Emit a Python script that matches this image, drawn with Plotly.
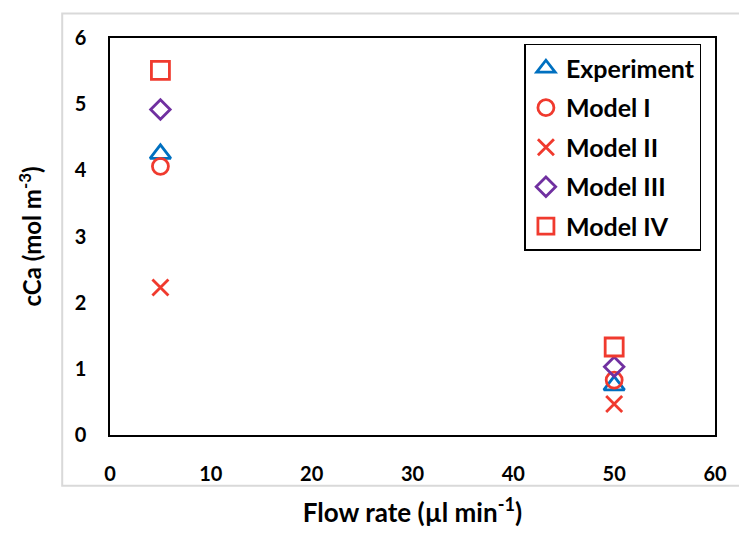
import plotly.graph_objects as go

flow_rate = [5, 50]
series_names = ["Experiment", "Model I", "Model II", "Model III", "Model IV"]
experiment = [4.25, 0.75]
model_i = [4.06, 0.83]
model_ii = [2.23, 0.47]
model_iii = [4.92, 1.03]
model_iv = [5.51, 1.33]
x_ticks = [0, 10, 20, 30, 40, 50, 60]
y_ticks = [0, 1, 2, 3, 4, 5, 6]

values = [experiment, model_i, model_ii, model_iii, model_iv]
symbols = ["triangle-up-open", "circle-open", "x-thin-open", "diamond-open", "square-open"]
colors = ["#0070C0", "#F03A2E", "#F03A2E", "#7030A0", "#F03A2E"]
sizes = [18, 16, 16, 15, 18]

FONT = "Lato"
fig = go.Figure()
for i, (name, vals) in enumerate(zip(series_names, values)):
    fig.add_trace(go.Scatter(
        x=flow_rate, y=vals, mode="markers", name=name, legendgroup=name,
        marker=dict(symbol=symbols[i], size=sizes[i], color=colors[i],
                    line=dict(color=colors[i], width=2.8)),
    ))

fig.update_layout(
    width=739, height=535,
    margin=dict(l=110, r=22, t=38, b=91),
    paper_bgcolor="white", plot_bgcolor="white",
    font=dict(family=FONT, color="black", size=20),
    showlegend=True,
    legend=dict(x=0.685, y=0.985, xanchor="left", yanchor="top",
                bordercolor="black", borderwidth=1.5, bgcolor="white",
                font=dict(family=FONT, size=25, color="black", weight="bold"),
                tracegroupgap=4, itemwidth=30),
    xaxis=dict(range=x_ticks[0:1] + x_ticks[-1:], tickvals=x_ticks, showgrid=False, zeroline=False,
               showline=True, linecolor="black", linewidth=1.5, mirror=True, ticks="",
               tickfont=dict(family=FONT, size=20, weight="bold"), ticklabelstandoff=20,
               title=dict(text="Flow rate (µl min<sup>-1</sup>)", standoff=20,
                          font=dict(family=FONT, size=26, weight="bold"))),
    yaxis=dict(range=y_ticks[0:1] + y_ticks[-1:], tickvals=y_ticks, showgrid=False, zeroline=False,
               showline=True, linecolor="black", linewidth=1.5, mirror=True, ticks="",
               tickfont=dict(family=FONT, size=20, weight="bold"), ticklabelstandoff=18,
               title=dict(text="cCa (mol m<sup>-3</sup>)", standoff=26,
                          font=dict(family=FONT, size=24, weight="bold"))),
    shapes=[dict(type="rect", xref="paper", yref="paper", x0=-0.079, x1=1.08,
                 y0=-0.128, y1=1.062, line=dict(color="#D9D9D9", width=2), layer="below")],
)

fig.write_html("out.html", config={"displayModeBar": False},
               post_script="document.body.style.margin='0';document.body.style.overflow='hidden';")
